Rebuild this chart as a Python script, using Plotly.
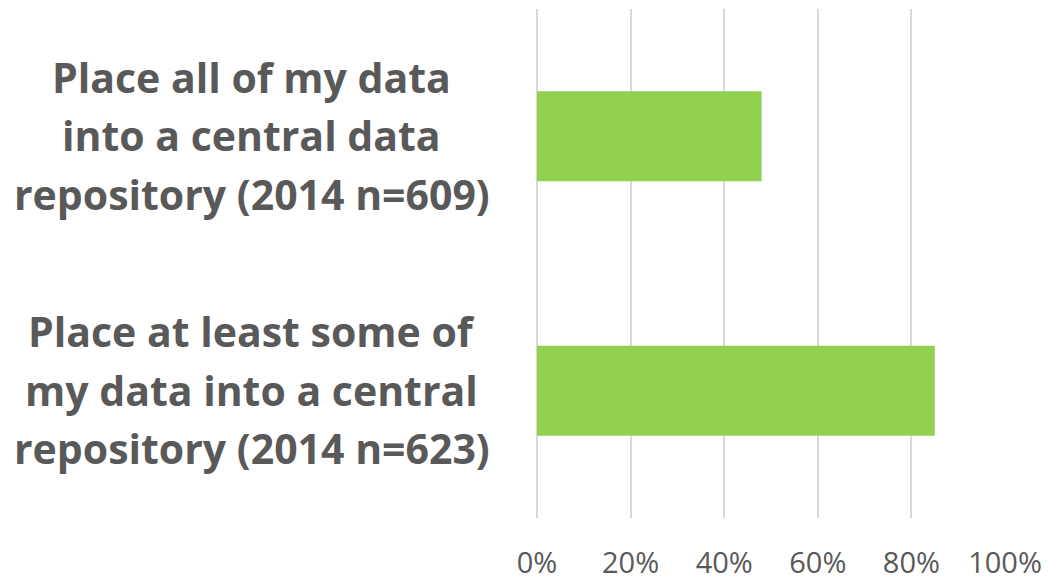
import plotly.graph_objects as go

# Survey answers (share of respondents)
categories = [
    "Place all of my data<br>into a central data<br>repository (2014 n=609)",
    "Place at least some of<br>my data into a central<br>repository (2014 n=623)",
]
shares = [0.48, 0.85]
tick_vals = [0, 0.2, 0.4, 0.6, 0.8, 1.0]
tick_text = ["0%", "20%", "40%", "60%", "80%", "100%"]

gray = "#595959"

fig = go.Figure(go.Bar(
    x=shares,
    y=categories,
    orientation="h",
    marker=dict(color="#92D050", line=dict(width=0)),
    hoverinfo="x",
))

# category labels: centered lines, one annotation per line to control line spacing
annotations = []
for cat in categories:
    lines = cat.split("<br>")
    for i, line in enumerate(lines):
        annotations.append(dict(
            x=-0.609, xref="paper", xanchor="center",
            y=cat, yref="y", yanchor="middle",
            yshift=(len(lines) - 1) / 2 * 58.5 - i * 58.5 + 1,
            text=line, showarrow=False,
            font=dict(family="Open Sans", size=41, color=gray, weight="bold"),
        ))

# page body has an 8px margin, so the figure is sized 8px smaller
fig.update_layout(
    width=1041, height=573,
    margin=dict(l=529, r=44, t=0.5, b=62.5, autoexpand=False),
    paper_bgcolor="white", plot_bgcolor="white",
    bargap=0.647,
    showlegend=False,
    annotations=annotations,
    font=dict(family="Open Sans", color=gray),
)
fig.update_xaxes(
    range=[0, 1], tickvals=tick_vals, ticktext=tick_text,
    showgrid=True, gridcolor="#d9d9d9", gridwidth=1.5,
    zeroline=True, zerolinecolor="#d9d9d9", zerolinewidth=1.5,
    showline=False,
    tickfont=dict(size=29, color=gray),
    ticklabelstandoff=25,
)
fig.update_yaxes(
    autorange="reversed", showticklabels=False,
    showgrid=False, zeroline=False, showline=False,
)

fig.write_html("out.html")
